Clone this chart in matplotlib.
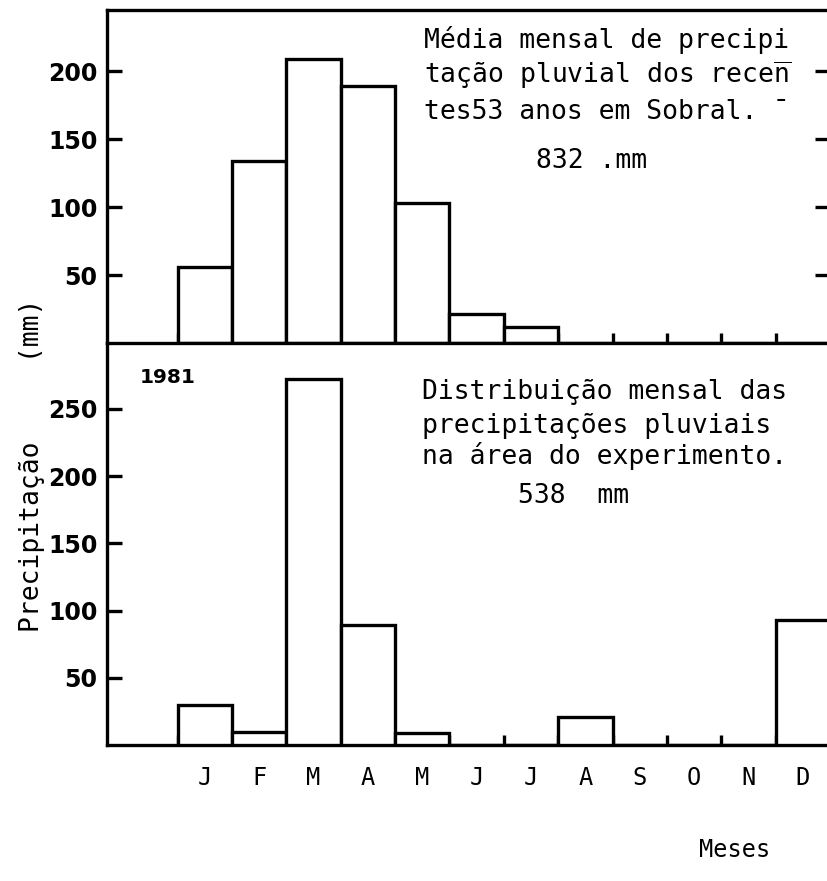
import matplotlib
matplotlib.use("Agg")
import matplotlib.pyplot as plt
import numpy as np

# Monthly rainfall (mm)
months = ["J", "F", "M", "A", "M", "J", "J", "A", "S", "O", "N", "D"]
media_53_anos = [56, 134, 209, 189, 103, 21, 12, 0, 0, 0, 0, 0]
chuva_1981 = [30, 10, 272, 89, 9, 0, 0, 21, 0, 0, 0, 93]

MONO = "DejaVu Sans Mono"
LW = 2.4
plt.rcParams["mathtext.fontset"] = "dejavusans"

fig = plt.figure(figsize=(8.27, 8.81), dpi=100)
W, H = 827, 881
left = 107 / W
right = 830 / W
ax_top = fig.add_axes([left, (H - 343) / H, right - left, (343 - 10) / H])
ax_bot = fig.add_axes([left, (H - 745) / H, right - left, (745 - 343) / H])

x = np.arange(12)
xlim = (-1.8, 11.49)

for ax, vals, ymax in ((ax_top, media_53_anos, 245), (ax_bot, chuva_1981, 299)):
    ax.bar(x, vals, width=1.0, facecolor="white", edgecolor="black",
           linewidth=LW, zorder=3)
    ax.set_xlim(*xlim)
    ax.set_ylim(0, ymax)
    for s in ax.spines.values():
        s.set_linewidth(LW)
    ax.spines["right"].set_visible(False)
    # month boundaries as short inward ticks
    ax.set_xticks(np.arange(-0.5, 12, 1.0), minor=True)
    ax.tick_params(axis="x", which="minor", direction="in", length=7,
                   width=LW, top=False)
    ax.tick_params(axis="y", which="major", direction="in", length=11,
                   width=LW, pad=7, labelsize=17)

ax_top.set_yticks([50, 100, 150, 200])
ax_top.set_yticklabels(["50", "100", "150", "200"], fontweight="bold")
ax_top.tick_params(axis="y", right=True)
ax_top.set_xticks([])
ax_top.spines["bottom"].set_visible(False)

ax_bot.set_yticks([50, 100, 150, 200, 250])
ax_bot.set_yticklabels(["50", "100", "150", "200", "250"], fontweight="bold")
ax_bot.set_xticks(x)
ax_bot.set_xticklabels(months, family=MONO, fontsize=17)
ax_bot.tick_params(axis="x", which="major", length=0, pad=15)

# Annotations, top panel
tfs = 19
top_lines = ["Média mensal de precipi",
             r"tação pluvial dos rece$\overline{\mathtt{n}}$",
             "tes53 anos em Sobral. \u00af"]
for line, yv in zip(top_lines, [217, 191, 165]):
    ax_top.text(4.04, yv, line, family=MONO, fontsize=tfs, va="baseline",
                ha="left", zorder=5)
ax_top.text(6.1, 129, "832 .mm", family=MONO, fontsize=tfs, va="baseline",
            ha="left", zorder=5)

# Annotations, bottom panel
bot_lines = ["Distribuição mensal das",
             "precipitações pluviais",
             "na área do experimento."]
for line, yv in zip(bot_lines, [257, 232, 209]):
    ax_bot.text(3.99, yv, line, family=MONO, fontsize=tfs, va="baseline",
                ha="left", zorder=5)
ax_bot.text(5.76, 180, "538  mm", family=MONO, fontsize=tfs, va="baseline",
            ha="left", zorder=5)
ax_bot.text(-1.2, 269, "1981", fontsize=14.5, fontweight="bold",
            va="baseline", ha="left", zorder=5)

fig.text(32 / W, 1 - 465 / H, "Precipitação     (mm)", family=MONO,
         fontsize=19, rotation=90, ha="center", va="center")
fig.text(735 / W, 1 - 850 / H, "Meses", family=MONO, fontsize=17,
         ha="center", va="center")

fig.savefig("out.png", dpi=100)
